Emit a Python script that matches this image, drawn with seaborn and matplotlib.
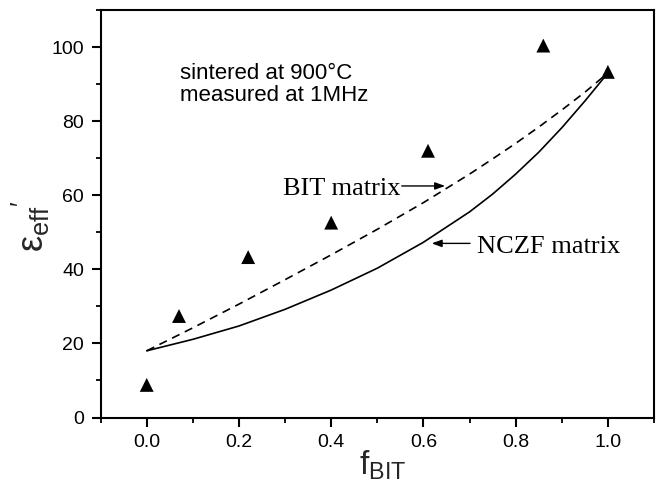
import matplotlib
matplotlib.use("Agg")
import matplotlib.pyplot as plt
import seaborn as sns
import numpy as np
import pandas as pd

# ---- data ----
frac_points = [0.0, 0.07, 0.22, 0.40, 0.61, 0.86, 1.0]
eps_points = [8.8, 27.4, 43.3, 52.6, 72.0, 100.4, 93.3]

frac_grid = [0.0, 0.1, 0.2, 0.3, 0.4, 0.5, 0.6, 0.7, 0.75, 0.8, 0.85, 0.9, 0.95, 1.0]
eps_nczf_matrix = [18.0, 21.1, 24.7, 29.2, 34.4, 40.3, 47.3, 55.5, 60.3, 65.7, 71.6, 78.2, 85.4, 93.0]
eps_bit_matrix = [18.0, 24.2, 30.6, 37.2, 43.9, 50.8, 58.0, 65.7, 69.8, 74.0, 78.4, 83.0, 87.8, 93.0]

x_major = [0.0, 0.2, 0.4, 0.6, 0.8, 1.0]
x_major_labels = ["0.0", "0.2", "0.4", "0.6", "0.8", "1.0"]
x_minor = [-0.1, 0.1, 0.3, 0.5, 0.7, 0.9, 1.1]
y_major = [0, 20, 40, 60, 80, 100]
y_major_labels = ["0", "20", "40", "60", "80", "100"]
y_minor = [10, 30, 50, 70, 90, 110]

sns.set_theme(style="ticks")
plt.rcParams["font.family"] = ["Liberation Sans", "DejaVu Sans"]
plt.rcParams["mathtext.fontset"] = "custom"
plt.rcParams["mathtext.rm"] = "Liberation Sans"
plt.rcParams["mathtext.it"] = "Liberation Sans:italic"
plt.rcParams["mathtext.sf"] = "Liberation Sans"

W, H = 659, 490
fig = plt.figure(figsize=(W / 100, H / 100), dpi=100)
left_px, right_px, top_px, bottom_px = 100.6, 654.0, 10.0, 417.5
ax = fig.add_axes([left_px / W, (H - bottom_px) / H,
                   (right_px - left_px) / W, (bottom_px - top_px) / H])

df_curves = pd.DataFrame({"f": frac_grid, "nczf": eps_nczf_matrix, "bit": eps_bit_matrix})
df_pts = pd.DataFrame({"f": frac_points, "eps": eps_points})

sns.lineplot(data=df_curves, x="f", y="bit", ax=ax, color="black", lw=1.2,
             linestyle=(0, (5, 3.5)), sort=True, estimator=None)
sns.lineplot(data=df_curves, x="f", y="nczf", ax=ax, color="black", lw=1.2,
             linestyle="-", sort=True, estimator=None)
sns.scatterplot(data=df_pts, x="f", y="eps", ax=ax, marker="^", s=100,
                color="black", edgecolor="none", zorder=3)

ax.set_xlim(-0.1, 1.1)
ax.set_ylim(0, 110)
ax.set_xticks(x_major)
ax.set_xticklabels(x_major_labels)
ax.set_xticks(x_minor, minor=True)
ax.set_yticks(y_major)
ax.set_yticklabels(y_major_labels)
ax.set_yticks(y_minor, minor=True)

for s in ax.spines.values():
    s.set_visible(True)
    s.set_linewidth(1.5)
    s.set_color("black")

ax.tick_params(which="major", direction="out", length=6.5, width=1.5,
               labelsize=14, pad=5.5, top=False, right=False, colors="black")
ax.tick_params(which="minor", direction="out", length=3.6, width=1.3,
               top=False, right=False, colors="black")

ax.set_xlabel(r"$\mathregular{f_{BIT}}$", fontsize=24)
ax.set_ylabel(r"$\mathregular{ε_{eff}{}^{\prime}}$", fontsize=26)
ax.xaxis.set_label_coords(0.51, -0.077)
ax.yaxis.set_label_coords(-0.088, 0.47)

# annotations
ax.text(0.0722, 91.4, "sintered at 900°C", fontsize=16, va="baseline", color="black")
ax.text(0.0722, 85.4, "measured at 1MHz", fontsize=16, va="baseline", color="black")

ax.text(0.551, 60.05, "BIT matrix", family="Liberation Serif", fontsize=19,
        ha="right", va="baseline", color="black")
ax.annotate("", xy=(0.647, 62.5), xytext=(0.553, 62.5),
            arrowprops=dict(arrowstyle="-|>,head_length=0.6,head_width=0.22",
                            color="black", lw=1.0, shrinkA=0, shrinkB=0,
                            mutation_scale=10))
ax.text(0.716, 44.4, "NCZF matrix", family="Liberation Serif", fontsize=19,
        ha="left", va="baseline", color="black")
ax.annotate("", xy=(0.618, 47.0), xytext=(0.701, 47.0),
            arrowprops=dict(arrowstyle="-|>,head_length=0.6,head_width=0.22",
                            color="black", lw=1.0, shrinkA=0, shrinkB=0,
                            mutation_scale=10))

fig.savefig("out.png", dpi=100, facecolor="white")
